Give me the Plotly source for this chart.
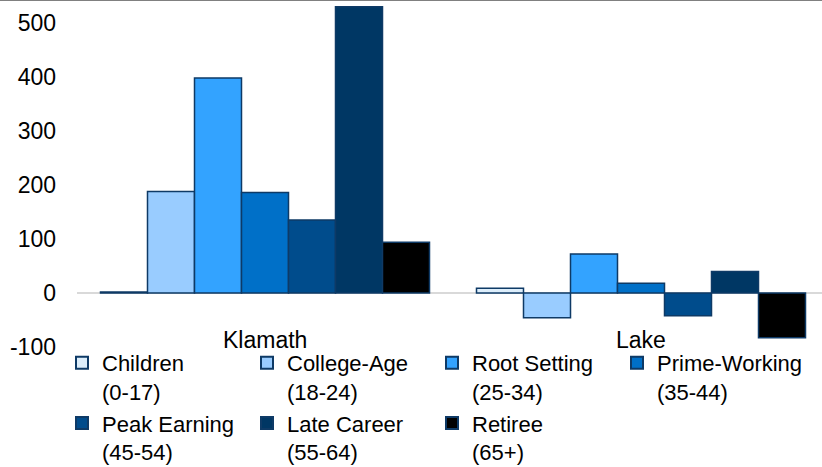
import plotly.graph_objects as go

regions = ["Klamath", "Lake"]
series_names = [
    "Children<br>(0-17)", "College-Age<br>(18-24)", "Root Setting<br>(25-34)",
    "Prime-Working<br>(35-44)", "Peak Earning<br>(45-54)", "Late Career<br>(55-64)",
    "Retiree<br>(65+)",
]
values = [
    [2, 9],
    [188, -46],
    [398, 72],
    [186, 18],
    [135, -42],
    [530, 40],
    [94, -83],
]
colors = ["#ddeefb", "#99ccff", "#33a3ff", "#0070c8", "#004c8c", "#003764", "#000000"]
y_ticks = [-100, 0, 100, 200, 300, 400, 500]

FONT = "Liberation Sans, Arial, sans-serif"

fig = go.Figure()
for name, vals, col in zip(series_names, values, colors):
    fig.add_trace(go.Bar(
        x=regions, y=vals, name=name,
        marker=dict(color=col, line=dict(color="#0e3a66", width=1.5)),
    ))

W, H = 822, 467
L, T, B = 77, 0, 120
plot_w = W - L
plot_h = H - T - B
unit = 376.0
xmax = -0.5 + plot_w / unit

fig.update_layout(
    width=W, height=H,
    margin=dict(l=L, r=0, t=T, b=B, pad=0, autoexpand=False),
    paper_bgcolor="white", plot_bgcolor="white",
    barmode="group", bargap=0.125, bargroupgap=0,
    font=dict(family=FONT, size=22, color="#000000"),
    showlegend=True,
    legend=dict(
        orientation="h", x=(62 - L) / plot_w, xanchor="left",
        y=1 - 473 / plot_h, yanchor="bottom",
        entrywidth=140, entrywidthmode="pixels",
        valign="top", font=dict(size=22, family=FONT, color="#000000"),
        tracegroupgap=0, itemsizing="constant",
        bgcolor="rgba(0,0,0,0)",
    ),
    xaxis=dict(
        type="category", range=[-0.5, xmax], showticklabels=False,
        showgrid=False, zeroline=False, showline=False, ticks="",
    ),
    yaxis=dict(
        range=[-100, 293 / 0.54], tickvals=y_ticks, ticktext=[str(v) for v in y_ticks],
        showgrid=False, zeroline=True, zerolinecolor="#d9d9d9", zerolinewidth=2,
        showline=False, ticks="", ticklabelstandoff=20,
        tickfont=dict(size=23, family=FONT, color="#000000"),
    ),
)

for i, r in enumerate(regions):
    fig.add_annotation(
        x=r, xref="x", y=-87, yref="y", text=r, showarrow=False,
        yanchor="middle", xanchor="center",
        font=dict(size=23, family=FONT, color="#000000"),
    )

fig.add_shape(type="line", xref="paper", yref="paper",
              x0=-L / plot_w, x1=1, y0=1, y1=1,
              line=dict(color="#808080", width=2))

fig.write_html("out.html", config={"displayModeBar": False})

with open("out.html", "r", encoding="utf-8") as f:
    html = f.read()
html = html.replace("<head>", "<head><style>html,body{margin:0;padding:0;overflow:hidden;}</style>", 1)
with open("out.html", "w", encoding="utf-8") as f:
    f.write(html)
